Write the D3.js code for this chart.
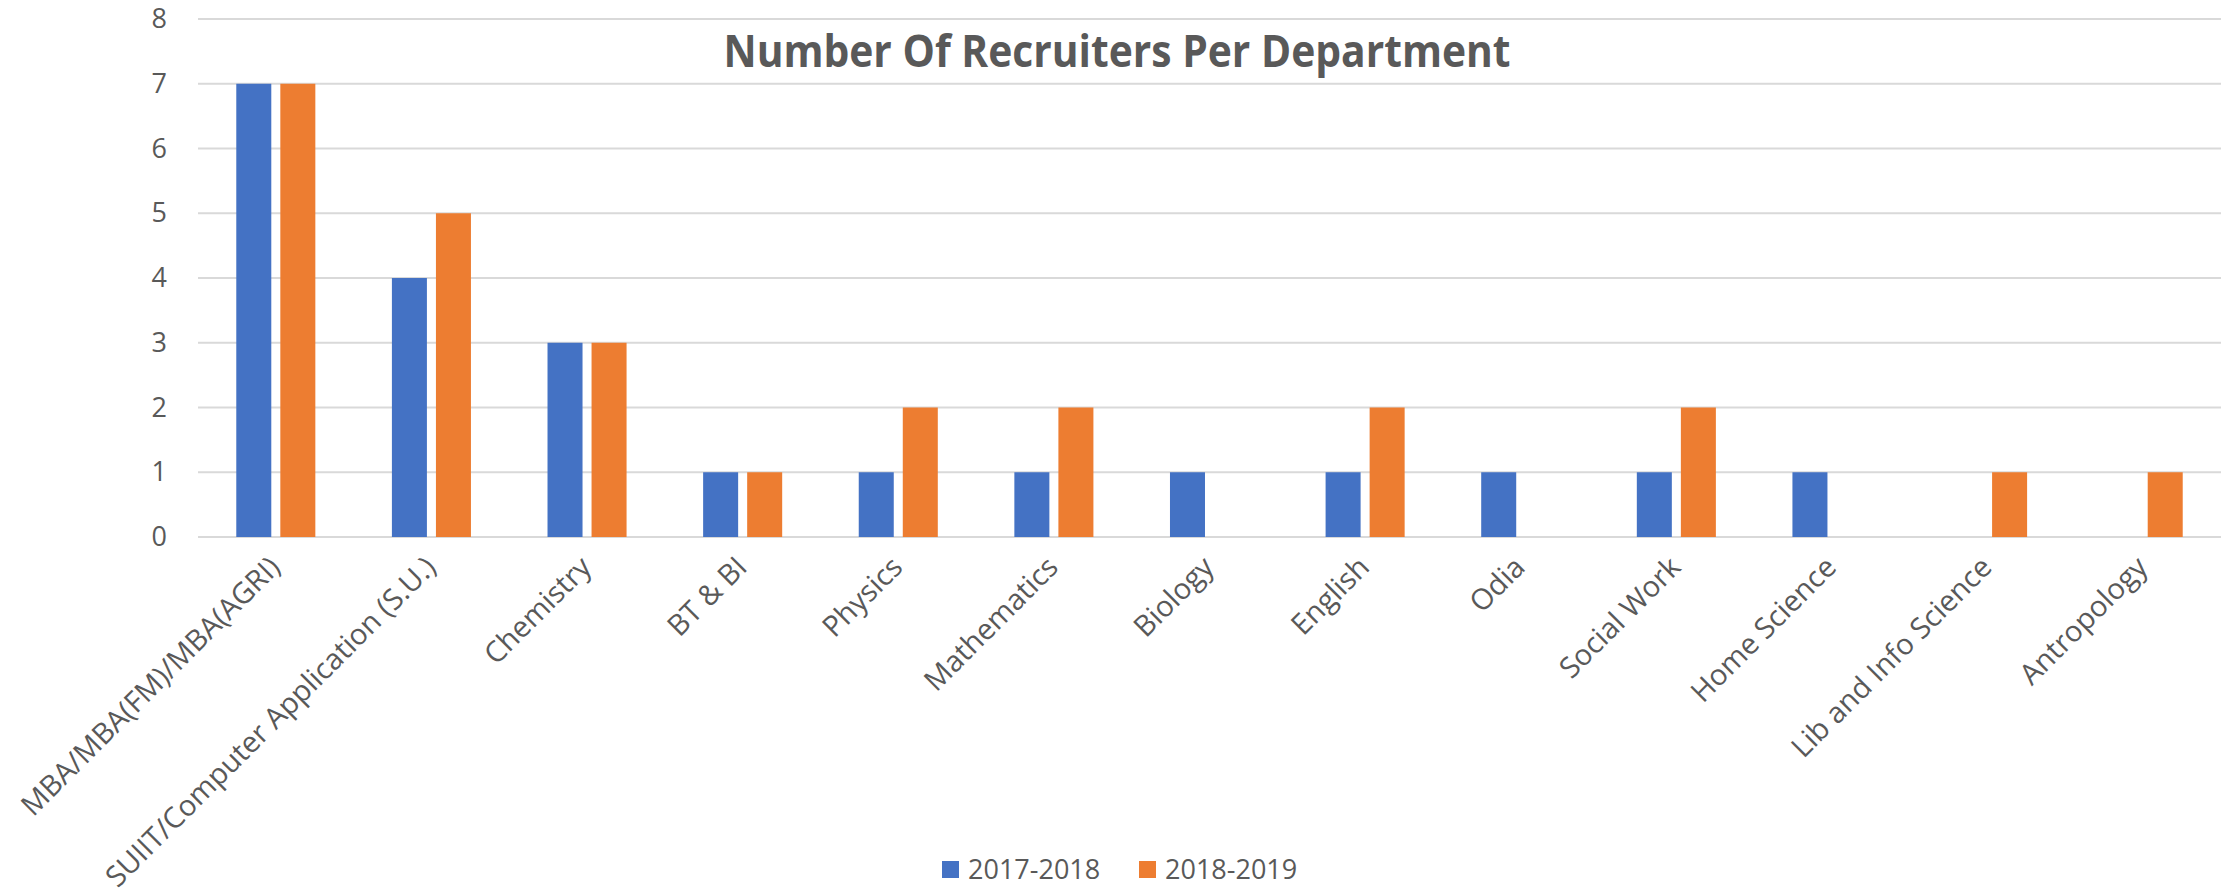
<!DOCTYPE html>
<html>
<head>
<meta charset="utf-8">
<script src="https://cdn.jsdelivr.net/npm/d3@7"></script>
<style>
  html, body { margin: 0; padding: 0; background: #fff; }
  text { font-family: "Open Sans", sans-serif; fill: #595959; }
</style>
</head>
<body>
<div id="chart"></div>
<script>
// data
var departments = ["MBA/MBA(FM)/MBA(AGRI)", "SUIIT/Computer Application (S.U.)", "Chemistry", "BT & BI",
  "Physics", "Mathematics", "Biology", "English", "Odia", "Social Work", "Home Science",
  "Lib and Info Science", "Antropology"];
var seriesNames = ["2017-2018", "2018-2019"];
var recruiters2017 = [7, 4, 3, 1, 1, 1, 1, 1, 1, 1, 1, 0, 0];
var recruiters2018 = [7, 5, 3, 1, 2, 2, 0, 2, 0, 2, 0, 1, 1];
var yTicks = [0, 1, 2, 3, 4, 5, 6, 7, 8];
var colors = ["#4472C4", "#ED7D31"];
var title = "Number Of Recruiters Per Department";

var W = 2236, H = 893;
var margin = {top: 19, left: 198, right: 15, bottom: 356};
var width = W - margin.left - margin.right,
    height = H - margin.top - margin.bottom;

var svg = d3.select("#chart")
  .append("svg")
  .attr("width", W)
  .attr("height", H);

var g = svg.append("g")
  .attr("transform", "translate(" + margin.left + "," + margin.top + ")");

var x = d3.scaleBand().domain(departments).range([0, width]).padding(0);
var y = d3.scaleLinear().domain([0, 8]).range([height, 0]);

var barW = x.bandwidth() * 0.225,
    gap = x.bandwidth() * 0.058;

// gridlines
g.selectAll(".grid")
  .data(yTicks)
  .enter()
  .append("line")
  .attr("x1", 0)
  .attr("x2", width)
  .attr("y1", d => y(d))
  .attr("y2", d => y(d))
  .attr("stroke", "#D9D9D9")
  .attr("stroke-width", 2);

// y axis labels
var yAxis = g.append("g")
  .call(d3.axisLeft(y).tickValues(yTicks).tickSize(0).tickPadding(31));
yAxis.select(".domain").remove();
yAxis.selectAll("text")
  .style("font-size", "27px")
  .style("font-family", "'Open Sans', sans-serif")
  .attr("fill", "#595959");

// bars
var series = [recruiters2017, recruiters2018];
series.forEach(function(vals, s) {
  g.selectAll(".bar" + s)
    .data(vals)
    .enter()
    .append("rect")
    .attr("x", (d, i) => x(departments[i]) + x.bandwidth() / 2 + (s === 0 ? -gap / 2 - barW : gap / 2))
    .attr("y", d => y(d))
    .attr("width", barW)
    .attr("height", d => height - y(d))
    .attr("fill", colors[s]);
});

// x axis labels (rotated)
var xAxis = g.append("g")
  .attr("transform", "translate(0," + height + ")")
  .call(d3.axisBottom(x).tickSize(0).tickPadding(0));
xAxis.select(".domain").remove();
xAxis.selectAll("text")
  .style("font-size", "29px")
  .style("font-family", "'Open Sans', sans-serif")
  .attr("fill", "#595959")
  .attr("text-anchor", "end")
  .attr("dy", null)
  .attr("y", 0)
  .attr("transform", "translate(6,32) rotate(-45)");

// title
svg.append("text")
  .attr("x", 1117)
  .attr("y", 67)
  .attr("text-anchor", "middle")
  .attr("textLength", 787)
  .attr("lengthAdjust", "spacingAndGlyphs")
  .style("font-size", "44px")
  .style("font-weight", "bold")
  .text(title);

// legend
var legendX = [942, 1139];
var legend = svg.selectAll(".legend")
  .data(seriesNames)
  .enter()
  .append("g")
  .attr("transform", (d, i) => "translate(" + legendX[i] + ",870)");
legend.append("rect")
  .attr("x", 0)
  .attr("y", -9)
  .attr("width", 17)
  .attr("height", 17)
  .attr("fill", (d, i) => colors[i]);
legend.append("text")
  .attr("x", 26)
  .attr("y", 0)
  .attr("dy", "0.35em")
  .style("font-size", "27px")
  .text(d => d);
</script>
</body>
</html>
